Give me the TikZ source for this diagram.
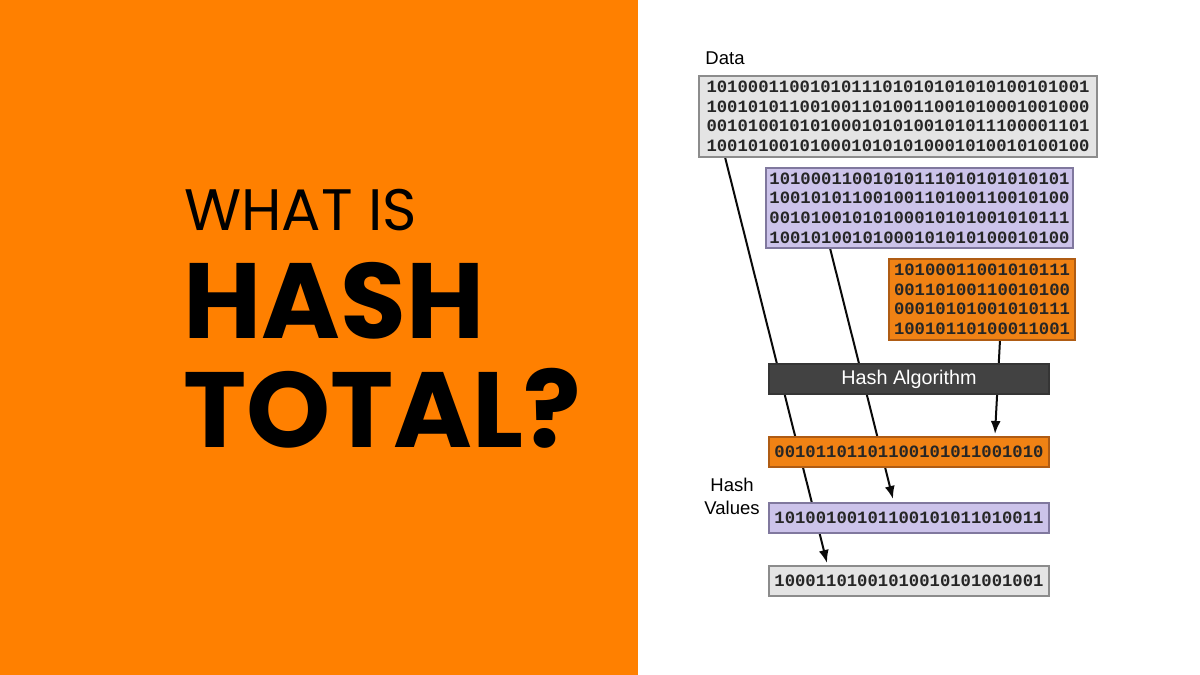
\documentclass[tikz,border=0pt]{standalone}
\usepackage{fontspec}
\setmainfont{Liberation Sans}
\setmonofont{Liberation Mono}
\newfontfamily\titlefont{Poppins}
\usetikzlibrary{arrows.meta, positioning, calc, backgrounds}
\definecolor{cPanel}{RGB}{255, 128, 0}
\definecolor{cGrayFill}{RGB}{228, 228, 228}
\definecolor{cGrayDraw}{RGB}{140, 140, 140}
\definecolor{cPurpFill}{RGB}{204, 195, 234}
\definecolor{cPurpDraw}{RGB}{128, 120, 158}
\definecolor{cOrgFill}{RGB}{240, 130, 20}
\definecolor{cOrgDraw}{RGB}{175, 92, 20}
\definecolor{cAlgoFill}{RGB}{66, 66, 66}
\definecolor{lineColor}{RGB}{10, 10, 10}
\tikzset{
    % binary data blocks
    bits/.style={
        rectangle, line width=1.3pt, inner sep=0pt, outer sep=0pt,
        align=center, text=black!85,
        font=\ttfamily\bfseries\fontsize{17.25}{19.6}\selectfont
    },
    grayBits/.style={bits, draw=cGrayDraw, fill=cGrayFill},
    purpBits/.style={bits, draw=cPurpDraw, fill=cPurpFill},
    orgBits/.style={bits, draw=cOrgDraw, fill=cOrgFill},
    % single line hash values
    hashVal/.style={minimum width=280pt, minimum height=30pt},
    algoBar/.style={
        rectangle, draw=cAlgoFill!80!black, fill=cAlgoFill, line width=1.3pt,
        inner sep=0pt, outer sep=0pt, text=white,
        minimum width=280pt, minimum height=30pt,
        font=\fontsize{19.8}{22}\selectfont
    },
    conn/.style={draw=lineColor, line width=2pt, -{Latex[length=13pt, width=10pt]}},
    % side labels
    sideText/.style={font=\fontsize{18.5}{23}\selectfont, align=center, inner sep=0pt},
    titleText/.style={anchor=base west, inner sep=0pt}
}

\begin{document}
\begin{tikzpicture}[x=1pt, y=-1pt]

	% ==========================================
	% background and title panel
	% ==========================================
	\begin{pgfonlayer}{background}
		\fill [white] (0,0) rectangle (1200,675);
		\fill [cPanel] (0,0) rectangle (638,675);
	\end{pgfonlayer}

	\node [titleText, font=\titlefont\fontsize{58.5}{60}\selectfont] (tWhat) at (184,230) {WHAT IS};
	\node [titleText, font=\titlefont\bfseries\fontsize{107}{110}\selectfont] (tHash) at (183,338) {HASH};
	\node [titleText, font=\titlefont\bfseries\fontsize{107}{110}\selectfont] (tTotal) at (183,447) {TOTAL?};

	% ==========================================
	% input data blocks
	% ==========================================
	\node [sideText] (dataLbl) at (725,58) {Data};

	\node [grayBits, minimum width=398pt, minimum height=81pt] (data) at (898,116.5) {
		1010001100101011101010101010100101001\\
		1001010110010011010011001010001001000\\
		0010100101010001010100101011100001101\\
		1001010010100010101010001010010100100
	};

	\node [purpBits, minimum width=307pt, minimum height=80pt] (part) at (919.5,208) {
		10100011001010111010101010101\\
		10010101100100110100110010100\\
		00101001010100010101001010111\\
		10010100101000101010100010100
	};

	\node [orgBits, minimum width=186pt, minimum height=81pt] (small) at (982,299.5) {
		10100011001010111\\
		00110100110010100\\
		00010101001010111\\
		10010110100011001
	};

	% ==========================================
	% hash algorithm and hash values
	% ==========================================
	\node [algoBar] (algo) at (909,379) {Hash Algorithm};

	\node [orgBits, hashVal, below=43pt of algo] (hashOrg) {00101101101100101011001010};
	\node [purpBits, hashVal, below=36pt of hashOrg] (hashPurp) {10100100101100101011010011};
	\node [grayBits, hashVal, below=33pt of hashPurp] (hashGray) {10001101001010010101001001};

	\node [sideText] (hashLbl) at (732,496) {Hash\\Values};

	% ==========================================
	% connectors (behind the blocks)
	% ==========================================
	\coordinate (dataOut) at ($(data.south west)+(26,0)$);
	\coordinate (dataIn) at ($(hashGray.north west)+(58,-3)$);
	\coordinate (partOut) at ($(part.south west)+(64,0)$);
	\coordinate (partIn) at ($(hashPurp.north west)+(124,-4)$);
	\coordinate (smallOut) at ($(small.south west)+(111,0)$);
	\coordinate (smallIn) at ($(hashOrg.north west)+(226,-3)$);

	\begin{pgfonlayer}{background}
		\draw [conn] (dataOut) -- (dataIn);
		\draw [conn] (partOut) -- (partIn);
		\draw [conn] (smallOut) -- (smallIn);
	\end{pgfonlayer}

\end{tikzpicture}
\end{document}
